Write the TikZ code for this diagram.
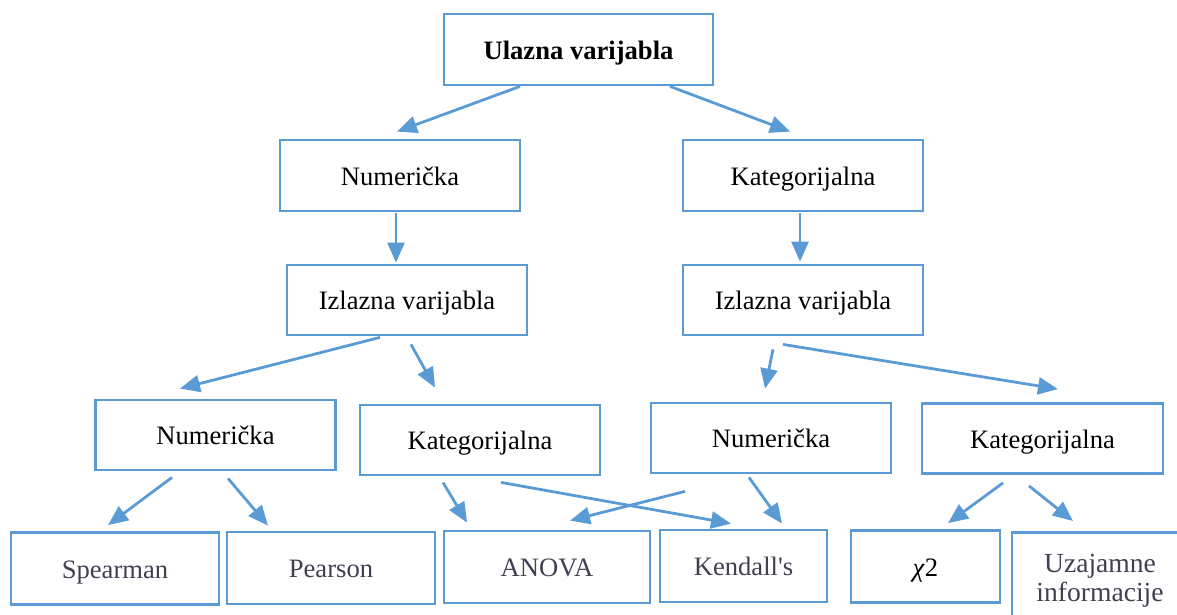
\documentclass[tikz,border=0pt]{standalone}
\usepackage{fontspec}
\setmainfont{Liberation Serif}
\usetikzlibrary{arrows.meta}
\definecolor{plava}{HTML}{5B9BD5}
\definecolor{siva}{HTML}{404050}
\tikzset{
  kutija/.style={draw=plava, line width=1.4pt, minimum width=120pt, minimum height=35pt,
    inner sep=2pt, text height=12pt, text depth=2.5pt, font=\fontsize{13.3}{16}\selectfont},
  list/.style={kutija, text=siva, minimum height=36pt},
  strelica/.style={plava, line width=1.4pt, -{Triangle[length=10pt,width=8.5pt]}},
}
\begin{document}
\begin{tikzpicture}[x=0.5pt,y=-0.5pt]
        \useasboundingbox (0,0) rectangle (1177,615);
        % vrh
        \node[kutija, minimum width=134.5pt, minimum height=35.5pt, text height=12.5pt, font=\fontsize{13.3}{16}\selectfont\bfseries] (ulaz) at (578.5,49.5) {Ulazna varijabla};
        % prvi nivo
        \node[kutija, minimum height=35.5pt] (numA) at (400,175.5) {Numerička};
        \node[kutija, minimum height=35.5pt] (katA) at (803,175.5) {Kategorijalna};
        \node[kutija] (izlL) at (407,300) {Izlazna varijabla};
        \node[kutija] (izlR) at (803,300) {Izlazna varijabla};
        % drugi nivo
        \node[kutija] (numL) at (215.5,435) {Numerička};
        \node[kutija] (katM) at (480,440) {Kategorijalna};
        \node[kutija] (numM) at (771,438) {Numerička};
        \node[kutija, minimum width=120.5pt] (katR) at (1042.5,438.5) {Kategorijalna};
        % metode
        \node[list, minimum width=104pt] (spear) at (115,568.5) {Spearman};
        \node[list, minimum width=104pt] (pear) at (331,568) {Pearson};
        \node[list, minimum width=103pt] (anova) at (547,567) {ANOVA};
        \node[list, minimum width=83.5pt] (kend) at (743.5,566) {Kendall\textquotesingle s};
        \node[list, minimum width=74.5pt, text=black] (chi) at (925.5,566.5) {\textit{χ}2};
        \node[list, minimum width=88pt, minimum height=0pt, inner sep=0pt, text height=20pt, text depth=26pt, anchor=north] (uza) at (1100,531)
          {\parbox[t]{86pt}{\centering\fontsize{13.8}{14.5}\selectfont Uzajamne\\informacije}};
        % strelice
        \draw[strelica] ([shift={(-58.5,0)}]ulaz.south) -- ([shift={(-3,-7)}]numA.north);
        \draw[strelica] ([shift={(91.5,0)}]ulaz.south) -- ([shift={(-13,-7)}]katA.north);
        \draw[strelica] ([shift={(-4,1)}]numA.south) -- ([shift={(-11,-1)}]izlL.north);
        \draw[strelica] ([shift={(-3,1)}]katA.south) -- ([shift={(-3,-2)}]izlR.north);
        \draw[strelica] ([shift={(-27,1)}]izlL.south) -- ([shift={(-35.5,-10)}]numL.north);
        \draw[strelica] ([shift={(4,8)}]izlL.south) -- ([shift={(-45,-16)}]katM.north);
        \draw[strelica] ([shift={(-30,13)}]izlR.south) -- ([shift={(-6,-13)}]numM.north);
        \draw[strelica] ([shift={(-20,8)}]izlR.south) -- ([shift={(15.5,-13)}]katR.north);
        \draw[strelica] ([shift={(-43.5,6)}]numL.south) -- ([shift={(-7,-6)}]spear.north);
        \draw[strelica] ([shift={(12.5,7)}]numL.south) -- ([shift={(-63,-5)}]pear.north);
        \draw[strelica] ([shift={(-37,6)}]katM.south) -- ([shift={(-80,-7)}]anova.north);
        \draw[strelica] ([shift={(21,6)}]katM.south) -- ([shift={(-12.5,-5)}]kend.north);
        \draw[strelica] ([shift={(-86,17)}]numM.south) -- ([shift={(23,-9)}]anova.north);
        \draw[strelica] ([shift={(-22,3)}]numM.south) -- ([shift={(38.5,-5)}]kend.north);
        \draw[strelica] ([shift={(-39.5,8)}]katR.south) -- ([shift={(22.5,-6)}]chi.north);
        \draw[strelica] ([shift={(-13.5,11)}]katR.south) -- ([shift={(-27,-10)}]uza.north);
\end{tikzpicture}
\end{document}
